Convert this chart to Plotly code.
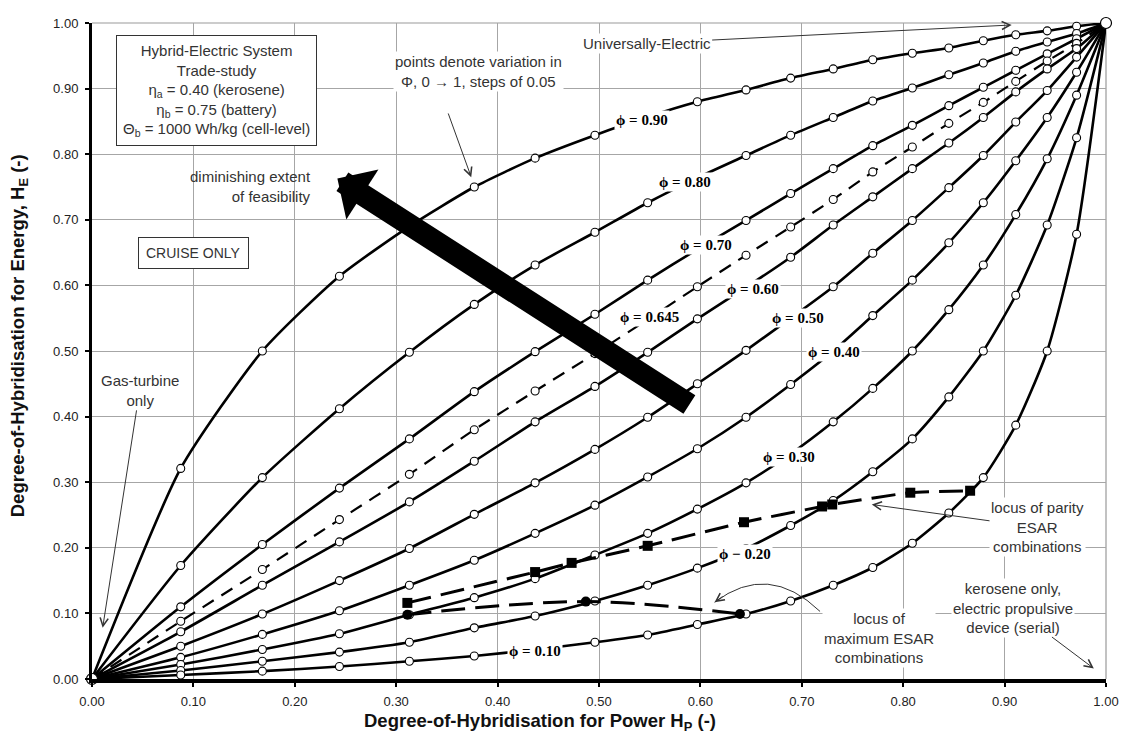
import plotly.graph_objects as go

# ---------------- data ----------------
hp = [0.0, 0.0875, 0.168, 0.244, 0.313, 0.377, 0.437, 0.496, 0.548, 0.597, 0.645,
      0.689, 0.731, 0.770, 0.809, 0.845, 0.879, 0.911, 0.942, 0.971, 1.0]

he_090 = [0.0, 0.321, 0.500, 0.614, 0.690, 0.750, 0.794, 0.829, 0.857, 0.880, 0.898,
          0.916, 0.930, 0.944, 0.954, 0.962, 0.973, 0.982, 0.988, 0.995, 1.0]
he_080 = [0.0, 0.173, 0.307, 0.412, 0.498, 0.571, 0.631, 0.681, 0.726, 0.764, 0.798,
          0.829, 0.856, 0.881, 0.901, 0.921, 0.939, 0.957, 0.971, 0.984, 1.0]
he_070 = [0.0, 0.110, 0.205, 0.291, 0.366, 0.438, 0.499, 0.556, 0.608, 0.655, 0.699,
          0.740, 0.778, 0.813, 0.844, 0.874, 0.902, 0.928, 0.953, 0.976, 1.0]
he_0645 = [0.0, 0.088, 0.167, 0.243, 0.312, 0.380, 0.439, 0.496, 0.548, 0.598, 0.646,
           0.689, 0.731, 0.773, 0.811, 0.847, 0.879, 0.911, 0.942, 0.969, 1.0]
he_060 = [0.0, 0.072, 0.143, 0.209, 0.270, 0.332, 0.392, 0.446, 0.498, 0.549, 0.597,
          0.643, 0.692, 0.735, 0.778, 0.817, 0.856, 0.895, 0.930, 0.961, 1.0]
he_050 = [0.0, 0.050, 0.099, 0.150, 0.199, 0.251, 0.299, 0.350, 0.399, 0.450, 0.501,
          0.550, 0.598, 0.649, 0.699, 0.749, 0.798, 0.849, 0.897, 0.948, 1.0]
he_040 = [0.0, 0.033, 0.068, 0.104, 0.143, 0.181, 0.222, 0.265, 0.308, 0.351, 0.399,
          0.449, 0.500, 0.554, 0.608, 0.665, 0.726, 0.790, 0.856, 0.925, 1.0]
he_030 = [0.0, 0.022, 0.045, 0.069, 0.098, 0.124, 0.153, 0.189, 0.222, 0.259, 0.299,
          0.343, 0.392, 0.443, 0.500, 0.563, 0.631, 0.708, 0.793, 0.890, 1.0]
he_020 = [0.0, 0.013, 0.027, 0.041, 0.056, 0.078, 0.096, 0.119, 0.143, 0.169, 0.199,
          0.234, 0.272, 0.316, 0.366, 0.430, 0.500, 0.585, 0.692, 0.825, 1.0]
he_010 = [0.0, 0.006, 0.012, 0.019, 0.027, 0.035, 0.045, 0.056, 0.067, 0.083, 0.099,
          0.119, 0.143, 0.170, 0.207, 0.253, 0.307, 0.387, 0.500, 0.678, 1.0]

parity_hp = [0.311, 0.437, 0.473, 0.548, 0.643, 0.720, 0.730, 0.807, 0.866]
parity_he = [0.116, 0.163, 0.177, 0.203, 0.239, 0.263, 0.266, 0.284, 0.287]

maxesar_hp = [0.311, 0.487, 0.639]
maxesar_he = [0.098, 0.118, 0.099]

x_ticks = [0.0, 0.1, 0.2, 0.3, 0.4, 0.5, 0.6, 0.7, 0.8, 0.9, 1.0]
y_ticks = [0.0, 0.1, 0.2, 0.3, 0.4, 0.5, 0.6, 0.7, 0.8, 0.9, 1.0]

curve_names = ["0.90", "0.80", "0.70", "0.645", "0.60", "0.50", "0.40", "0.30", "0.20", "0.10"]
curve_values = [he_090, he_080, he_070, he_0645, he_060, he_050, he_040, he_030, he_020, he_010]

# ---------------- figure ----------------
fig = go.Figure()

for name, vals in zip(curve_names, curve_values):
    dashed = name == "0.645"
    fig.add_trace(go.Scatter(
        x=hp, y=vals, mode="lines+markers", name="ϕ = " + name,
        line=dict(color="black", width=2.2 if dashed else 2.6,
                  dash="13px,9px" if dashed else "solid",
                  shape="spline", smoothing=0.6),
        marker=dict(symbol="circle", size=8, color="white",
                    line=dict(color="black", width=1.1)),
        cliponaxis=False, showlegend=False, hoverinfo="skip"))

# end points (0,0) and (1,1)
fig.add_trace(go.Scatter(
    x=[hp[0], hp[-1]], y=[he_050[0], he_050[-1]], mode="markers",
    marker=dict(symbol="circle", size=11, color="white", line=dict(color="black", width=1.2)),
    cliponaxis=False, showlegend=False, hoverinfo="skip"))

fig.add_trace(go.Scatter(
    x=parity_hp, y=parity_he, mode="lines+markers",
    line=dict(color="black", width=3, dash="24px,10px", shape="spline", smoothing=0.5),
    marker=dict(symbol="square", size=10, color="black"),
    cliponaxis=False, showlegend=False, hoverinfo="skip"))

fig.add_trace(go.Scatter(
    x=maxesar_hp, y=maxesar_he, mode="lines+markers",
    line=dict(color="black", width=3, dash="24px,10px", shape="spline", smoothing=1.0),
    marker=dict(symbol="circle", size=10, color="black"),
    cliponaxis=False, showlegend=False, hoverinfo="skip"))

TXT = dict(family="Liberation Sans, Arial", size=15, color="#333333")
SERIF = dict(family="Liberation Serif, Times New Roman", size=15, color="black")
TITLE = dict(family="Liberation Sans, Arial", size=18.5, color="#111111", weight="bold")
ARW = dict(arrowhead=5, arrowsize=1.6, arrowwidth=1, arrowcolor="#333333")

ann = []

# info box
ann.append(dict(x=0.1224, y=0.897, xref="x", yref="y", showarrow=False,
                text="Hybrid-Electric System<br>Trade-study<br>η<sub>a</sub> = 0.40 (kerosene)"
                     "<br>η<sub>b</sub> = 0.75 (battery)<br>Θ<sub>b</sub> = 1000 Wh/kg (cell-level)",
                font=TXT, align="center", bgcolor="white", bordercolor="#333333",
                borderwidth=1, borderpad=6))
ann.append(dict(x=0.1005, y=0.649, xref="x", yref="y", showarrow=False,
                text="CRUISE ONLY", font=dict(TXT, size=14), bgcolor="white",
                bordercolor="#333333", borderwidth=1, borderpad=7))
ann.append(dict(x=0.156, y=0.751, xref="x", yref="y", showarrow=False,
                text="diminishing extent<br>of feasibility", font=TXT, align="right"))
ann.append(dict(x=0.381, y=0.926, xref="x", yref="y", showarrow=False,
                text="points denote variation in<br>Φ, 0 → 1, steps of 0.05", font=TXT,
                align="center", bgcolor="white"))
ann.append(dict(x=0.374, y=0.765, xref="x", yref="y", text=" ", showarrow=True,
                ax=-26, ay=-72, **ARW))
# universally electric
ann.append(dict(x=0.907, y=0.997, xref="x", yref="y", text="Universally-Electric",
                font=TXT, showarrow=True, axref="x", ayref="y", ax=0.547, ay=0.969,
                bgcolor="white", **ARW))
# gas turbine
ann.append(dict(x=0.0105, y=0.078, xref="x", yref="y", text="Gas-turbine<br>only",
                font=TXT, showarrow=True, axref="x", ayref="y", ax=0.047, ay=0.440,
                bgcolor="white", **ARW))
# parity locus
ann.append(dict(x=0.769, y=0.266, xref="x", yref="y", text="locus of parity<br>ESAR<br>combinations",
                font=TXT, showarrow=True, axref="x", ayref="y", ax=0.9325, ay=0.231,
                bgcolor="white", **ARW))
# max ESAR locus label
ann.append(dict(x=0.776, y=0.063, xref="x", yref="y", showarrow=False,
                text="locus of<br>maximum ESAR<br>combinations", font=TXT, bgcolor="white"))
ann.append(dict(x=0.614, y=0.117, xref="x", yref="y", text=" ", showarrow=True,
                ax=11, ay=-8, **ARW))
# kerosene only
ann.append(dict(x=0.988, y=0.016, xref="x", yref="y",
                text="kerosene only,<br>electric propulsive<br>device (serial)",
                font=TXT, showarrow=True, axref="x", ayref="y", ax=0.908, ay=0.109,
                bgcolor="white", **ARW))
# big arrow
ann.append(dict(x=0.242, y=0.763, xref="x", yref="y", text=" ", showarrow=True,
                ax=355, ay=228, arrowhead=1, arrowsize=0.45, arrowwidth=22,
                arrowcolor="black"))

# phi labels
phi_pos = {"0.90": (0.542, 0.852), "0.80": (0.585, 0.758), "0.70": (0.606, 0.661),
           "0.645": (0.550, 0.552), "0.60": (0.652, 0.595), "0.50": (0.696, 0.550),
           "0.40": (0.732, 0.498), "0.30": (0.687, 0.338), "0.20": (0.644, 0.191),
           "0.10": (0.437, 0.042)}
for name in curve_names:
    px, py = phi_pos[name]
    sym = " − " if name == "0.20" else " = "
    ann.append(dict(x=px, y=py, xref="x", yref="y", showarrow=False,
                    text="<b>ϕ" + sym + name + "</b>", font=SERIF, bgcolor="white",
                    borderpad=1))

# axis titles
ann.append(dict(x=0.442, y=-0.066, xref="paper", yref="paper", showarrow=False,
                yanchor="middle",
                text="Degree-of-Hybridisation for Power H<sub>P</sub> (-)", font=TITLE))
ann.append(dict(x=-0.072, y=0.524, xref="paper", yref="paper", showarrow=False,
                textangle=-90, xanchor="center",
                text="Degree-of-Hybridisation for Energy, H<sub>E</sub> (-)", font=TITLE))

shapes = [
    dict(type="path", xref="x", yref="y",
         path="M 0.718,0.103 Q 0.667,0.179 0.614,0.117",
         line=dict(color="#333333", width=1)),
    dict(type="line", xref="paper", yref="paper", x0=0, x1=1, y0=1, y1=1,
         line=dict(color="#999999", width=1.2), layer="below"),
    dict(type="line", xref="paper", yref="paper", x0=1, x1=1, y0=0, y1=1,
         line=dict(color="#999999", width=1.2), layer="below"),
]

axis_common = dict(range=[0, 1], showgrid=True, gridcolor="#a6a6a6", gridwidth=1,
                   zeroline=False, showline=True, linecolor="black",
                   ticks="outside", ticklen=4, tickwidth=2, tickcolor="black",
                   tickformat=".2f",
                   tickfont=dict(family="Liberation Sans, Arial", size=13, color="#222222"))

fig.update_layout(
    width=1131, height=742,
    margin=dict(l=92, r=14, t=23, b=63),
    paper_bgcolor="white", plot_bgcolor="white",
    xaxis=dict(axis_common, tickvals=x_ticks, linewidth=4, ticklabelstandoff=3),
    yaxis=dict(axis_common, tickvals=y_ticks, linewidth=3, ticklabelstandoff=4),
    annotations=ann, shapes=shapes, showlegend=False,
)

fig.write_html("out.html")
